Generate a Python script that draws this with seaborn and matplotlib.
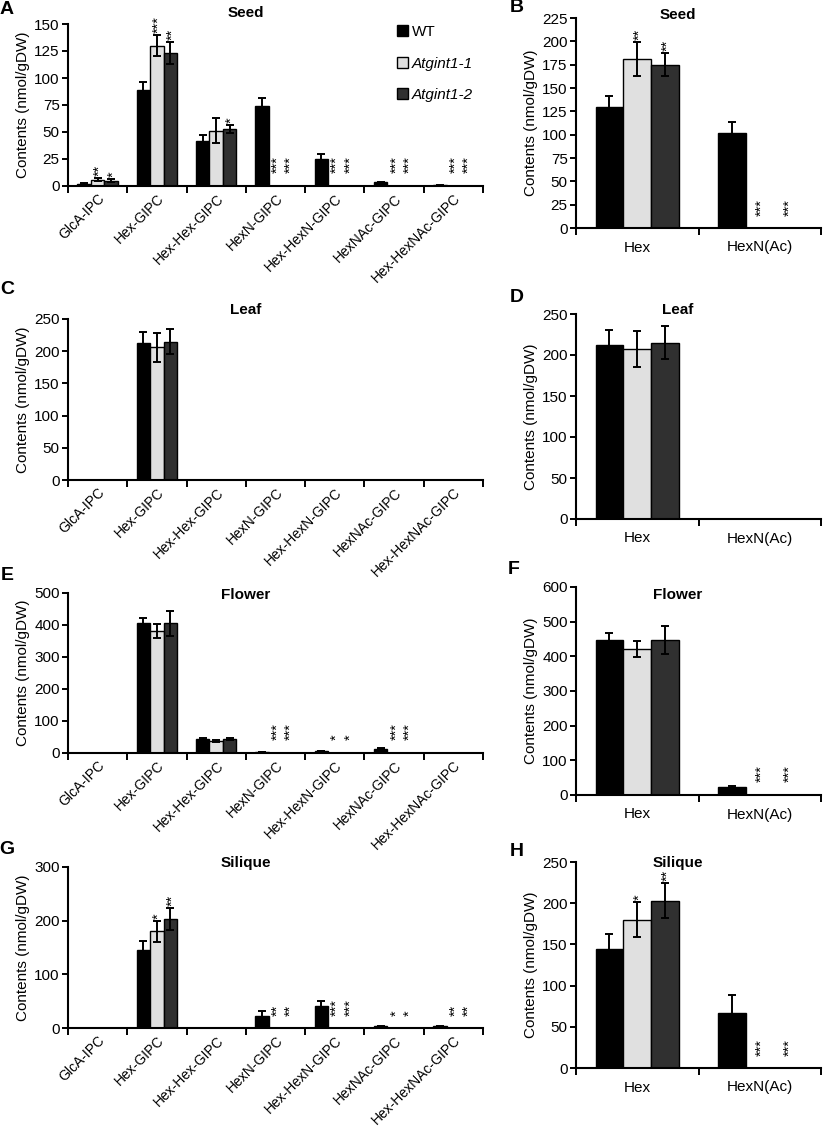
"""GIPC contents in seed, leaf, flower and silique (WT vs Atgint1 mutants)."""
import numpy as np
import pandas as pd
import matplotlib
matplotlib.use('Agg')
import matplotlib.pyplot as plt
from matplotlib.patches import Patch
import seaborn as sns

sns.set_style('white')
plt.rcParams['font.family'] = ['Liberation Sans', 'DejaVu Sans']
plt.rcParams['text.color'] = 'black'
plt.rcParams['axes.labelcolor'] = 'black'
plt.rcParams['xtick.color'] = 'black'
plt.rcParams['ytick.color'] = 'black'

GENOS = ['WT', 'Atgint1-1', 'Atgint1-2']
COLORS = ['#000000', '#e0e0e0', '#303030']

GIPC = ['GlcA-IPC', 'Hex-GIPC', 'Hex-Hex-GIPC', 'HexN-GIPC',
        'Hex-HexN-GIPC', 'HexNAc-GIPC', 'Hex-HexNAc-GIPC']
POLAR = ['Hex', 'HexN(Ac)']

# rows: WT, Atgint1-1, Atgint1-2
seed_gipc = [[2, 89, 42, 74, 25, 3.5, 0.5],
             [6, 130, 51, 0, 0, 0, 0],
             [5, 123, 53, 0, 0, 0, 0]]
seed_gipc_err = [[0.8, 7, 5.5, 7.5, 4.6, 0.5, 0.2],
                 [1.5, 10, 11.5, 0, 0, 0, 0],
                 [1.5, 10, 3.7, 0, 0, 0, 0]]
seed_gipc_sig = [['', '', '', '', '', '', ''],
                 ['**', '***', '', '***', '***', '***', '***'],
                 ['*', '**', '*', '***', '***', '***', '***']]

seed_polar = [[130, 102], [181, 0], [175, 0]]
seed_polar_err = [[11, 12], [18.5, 0], [12.5, 0]]
seed_polar_sig = [['', ''], ['**', '***'], ['**', '***']]

leaf_gipc = [[0, 212, 0, 0, 0, 0, 0],
             [0, 206, 0, 0, 0, 0, 0],
             [0, 215, 0, 0, 0, 0, 0]]
leaf_gipc_err = [[0, 18, 0, 0, 0, 0, 0],
                 [0, 22, 0, 0, 0, 0, 0],
                 [0, 20, 0, 0, 0, 0, 0]]
leaf_gipc_sig = [[''] * 7, [''] * 7, [''] * 7]

leaf_polar = [[212, 0], [207, 0], [215, 0]]
leaf_polar_err = [[19, 0], [22, 0], [20, 0]]
leaf_polar_sig = [['', ''], ['', ''], ['', '']]

flower_gipc = [[0, 405, 44, 3, 6, 14, 1],
               [0, 380, 38, 0, 0, 0, 0],
               [0, 405, 43, 0, 0, 0, 0]]
flower_gipc_err = [[0, 18, 3, 0.5, 1, 1.5, 0.3],
                   [0, 22, 4, 0, 0, 0, 0],
                   [0, 40, 3, 0, 0, 0, 0]]
flower_gipc_sig = [[''] * 7,
                   ['', '', '', '***', '*', '***', ''],
                   ['', '', '', '***', '*', '***', '']]

flower_polar = [[448, 24], [422, 0], [448, 0]]
flower_polar_err = [[20, 3], [23, 0], [40, 0]]
flower_polar_sig = [['', ''], ['', '***'], ['', '***']]

silique_gipc = [[0, 145, 0, 22, 41, 3, 3],
                [0, 180, 0, 0, 0, 0, 0],
                [0, 203, 0, 0, 0, 0, 0]]
silique_gipc_err = [[0, 18, 0, 10, 9, 0.5, 0.5],
                    [0, 20, 0, 0, 0, 0, 0],
                    [0, 20, 0, 0, 0, 0, 0]]
silique_gipc_sig = [[''] * 7,
                    ['', '*', '', '**', '***', '*', '**'],
                    ['', '**', '', '**', '***', '*', '**']]

silique_polar = [[145, 67], [180, 0], [203, 0]]
silique_polar_err = [[17.5, 21], [21, 0], [21.5, 0]]
silique_polar_sig = [['', ''], ['*', '***'], ['**', '***']]

W, H = 823, 1127


def px_axes(fig, x0, x1, y0, y1):
    return fig.add_axes([x0 / W, (H - y1) / H, (x1 - x0) / W, (y1 - y0) / H])


def draw_panel(ax, cats, means, errs, sigs, ymax, ystep, title, title_y, rotate):
    rows = []
    for g, vals in zip(GENOS, means):
        for c, v in zip(cats, vals):
            rows.append({'cat': c, 'geno': g, 'val': v})
    df = pd.DataFrame(rows)
    sns.barplot(data=df, x='cat', y='val', hue='geno', order=cats, hue_order=GENOS,
                palette=COLORS, saturation=1, errorbar=None, width=0.68,
                edgecolor='black', linewidth=1, legend=False, ax=ax)

    bar_conts = list(ax.containers)
    for i, cont in enumerate(bar_conts):
        xs = np.array([p.get_x() + p.get_width() / 2 for p in cont])
        hs = np.array(means[i], float)
        es = np.array(errs[i], float)
        m = es > 0
        if m.any():
            ax.errorbar(xs[m], hs[m], yerr=es[m], fmt='none', ecolor='black',
                        elinewidth=1.4, capsize=2.8, capthick=1.4)
        for x, h, e, s in zip(xs, hs, es, sigs[i]):
            if s:
                off = 9 if h == 0 else 1.5
                ax.annotate(s, (x, h + e), xytext=(1.5, off), textcoords='offset points',
                            rotation=90, ha='center', va='bottom', fontsize=10.5,
                            annotation_clip=False)

    n = len(cats)
    ax.set_xlim(-0.5, n - 0.5)
    ax.set_ylim(0, ymax)
    ax.set_yticks(np.arange(0, ymax + 1, ystep))
    ax.set_xticks(np.arange(n))
    ax.set_xticks(np.arange(n + 1) - 0.5, minor=True)
    ax.tick_params(axis='x', which='major', length=0, pad=4)
    ax.tick_params(axis='x', which='minor', length=5, width=1.4, direction='out', color='black',
                   bottom=True)
    ax.tick_params(axis='y', length=4, width=1.4, direction='out', color='black',
                   labelsize=11, pad=2, left=True)
    if rotate:
        ax.set_xticklabels(cats, rotation=45, ha='right', rotation_mode='anchor', fontsize=10)
    else:
        ax.set_xticklabels(cats, fontsize=11)
        ax.tick_params(axis='x', which='major', pad=9)
    ax.set_xlabel('')
    ax.set_ylabel('Contents (nmol/gDW)', fontsize=11, labelpad=3)
    sns.despine(ax=ax)
    for sp in ['left', 'bottom']:
        ax.spines[sp].set_linewidth(1.5)
        ax.spines[sp].set_color('black')
    tx = 0.429 if rotate else 0.416
    ax.text(tx, title_y, title, transform=ax.transAxes, ha='center', va='center',
            fontweight='bold', fontsize=11)


fig = plt.figure(figsize=(W / 100, H / 100), dpi=100)

axA = px_axes(fig, 68, 483, 24, 186)
axB = px_axes(fig, 576, 821, 18, 228)
axC = px_axes(fig, 68, 483, 319, 480)
axD = px_axes(fig, 576, 821, 314, 519)
axE = px_axes(fig, 68, 483, 593, 753)
axF = px_axes(fig, 576, 821, 587, 795)
axG = px_axes(fig, 68, 483, 867, 1028)
axH = px_axes(fig, 576, 821, 862, 1068)

draw_panel(axA, GIPC, seed_gipc, seed_gipc_err, seed_gipc_sig, 150, 25, 'Seed', 1.068, True)
draw_panel(axB, POLAR, seed_polar, seed_polar_err, seed_polar_sig, 225, 25, 'Seed', 1.014, False)
draw_panel(axC, GIPC, leaf_gipc, leaf_gipc_err, leaf_gipc_sig, 250, 50, 'Leaf', 1.056, True)
draw_panel(axD, POLAR, leaf_polar, leaf_polar_err, leaf_polar_sig, 250, 50, 'Leaf', 1.02, False)
draw_panel(axE, GIPC, flower_gipc, flower_gipc_err, flower_gipc_sig, 500, 100, 'Flower', 0.9875, True)
draw_panel(axF, POLAR, flower_polar, flower_polar_err, flower_polar_sig, 600, 100, 'Flower', 0.96, False)
draw_panel(axG, GIPC, silique_gipc, silique_gipc_err, silique_gipc_sig, 300, 100, 'Silique', 1.025, True)
draw_panel(axH, POLAR, silique_polar, silique_polar_err, silique_polar_sig, 250, 50, 'Silique', 0.995, False)

# legend in panel A
handles = [Patch(facecolor=c, edgecolor='black', linewidth=1) for c in COLORS]
leg = fig.legend(handles, GENOS, loc='upper left', bbox_to_anchor=(397 / W, 1 - 25 / H),
                 frameon=False, fontsize=11, handlelength=0.75, handleheight=0.75,
                 handletextpad=0.2, labelspacing=1.15, borderpad=0, borderaxespad=0)
for t in leg.get_texts()[1:]:
    t.set_fontstyle('italic')

# panel letters
letters = [('A', 7, 9), ('B', 517, 8), ('C', 7, 289), ('D', 517, 297),
           ('E', 7, 575), ('F', 514, 570), ('G', 7, 850), ('H', 517, 851)]
for lab, x, y in letters:
    fig.text(x / W, 1 - y / H, lab, ha='center', va='center', fontsize=14, fontweight='bold')

fig.savefig('out.png', dpi=100)
